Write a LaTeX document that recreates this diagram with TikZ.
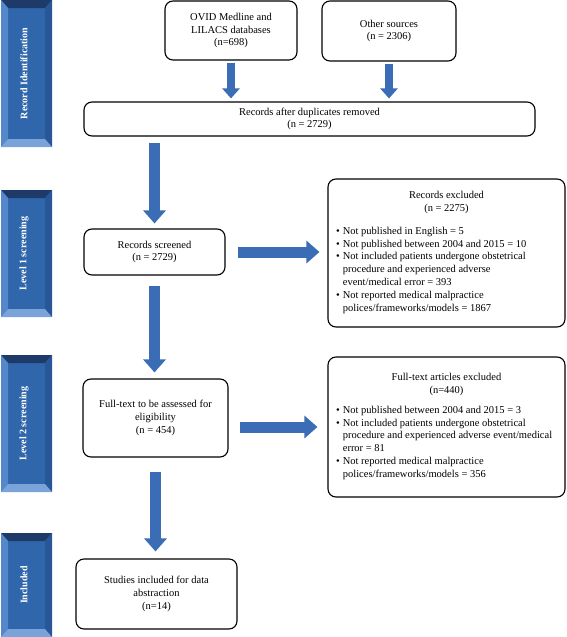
\documentclass[tikz,border=0pt]{standalone}
\usepackage{fontspec}
\setmainfont{Liberation Serif}
\usepackage{tikz}
\usetikzlibrary{arrows.meta}
\definecolor{barmid}{RGB}{47,102,172}
\definecolor{bartop}{RGB}{30,58,104}
\definecolor{barleft}{RGB}{84,136,202}
\definecolor{barright}{RGB}{40,86,150}
\definecolor{barbottom}{RGB}{122,163,217}
\definecolor{arrowblue}{RGB}{58,109,181}
\tikzset{
  box/.style={draw, rounded corners=8pt, line width=1.1pt, align=center, inner sep=2pt},
  bartext/.style={rotate=90, text=white, font=\fontsize{10}{12}\bfseries},
  smallarrow/.style={draw=arrowblue, line width=8pt, -{Triangle[width=17pt,length=10pt]}},
  bigarrow/.style={draw=arrowblue, line width=11pt, -{Triangle[width=22pt,length=13pt]}}
}
\def\levelbar(#1:#2)#3#4{%
  \fill[barmid] (1,#1) rectangle (52,#2);
  \fill[bartop] (1,#1) -- (52,#1) -- (45,{#1+8}) -- (8,{#1+8}) -- cycle;
  \fill[barleft] (1,#1) -- (8,{#1+8}) -- (8,{#2-8}) -- (1,#2) -- cycle;
  \fill[barright] (52,#1) -- (45,{#1+8}) -- (45,{#2-8}) -- (52,#2) -- cycle;
  \fill[barbottom] (1,#2) -- (8,{#2-8}) -- (45,{#2-8}) -- (52,#2) -- cycle;
  \node[bartext] (#3) at (24,{(#1+#2)/2}) {#4};
}

\begin{document}
\begin{tikzpicture}[x=1pt, y=-1pt, font=\fontsize{10.5}{12.8}\selectfont]
		%%%%% START %%%%%
		\useasboundingbox (0,0) rectangle (567,637);
		
		\levelbar(0:147){recid}{Record Identification}
		\levelbar(190:317){lvlone}{Level 1 screening}
		\levelbar(355:492){lvltwo}{Level 2 screening}
		\levelbar(533:637){incl}{Included}
		
		\node[box, minimum width=132pt, minimum height=59pt] (ovid) at (231,30.5) {OVID Medline and\\LILACS databases\\(n=698)};
		\node[box, minimum width=134pt, minimum height=60pt] (other) at (389,31) {Other sources\\(n = 2306)};
		\node[box, minimum width=451pt, minimum height=34pt] (dedup) at (309.5,119) {Records after duplicates removed\\(n = 2729)};
		
		\node[box, minimum width=141pt, minimum height=46pt] (screened) at (154.5,252) {Records screened\\(n = 2729)};
		\node[box, minimum width=237pt, minimum height=148pt] (exclone) at (446.5,253) {Records excluded\\(n = 2275)\\[11pt]
			\begin{tabular}{@{}l@{\hspace{3pt}}p{214pt}@{}}
				\textbullet & Not published in English = 5\\
				\textbullet & Not published between 2004 and 2015 = 10\\
				\textbullet & Not included patients undergone obstetrical\\
				& procedure and experienced adverse\\
				& event/medical error = 393\\
				\textbullet & Not reported medical malpractice\\
				& polices/frameworks/models = 1867
			\end{tabular}};
		
		\node[box, minimum width=145pt, minimum height=78pt] (fulltext) at (155.5,418) {Full-text to be assessed for\\eligibility\\(n = 454)};
		\node[box, minimum width=237pt, minimum height=140pt] (excltwo) at (446.5,427) {Full-text articles excluded\\(n=440)\\[8pt]
			\begin{tabular}{@{}l@{\hspace{3pt}}p{214pt}@{}}
				\textbullet & Not published between 2004 and 2015 = 3\\
				\textbullet & Not included patients undergone obstetrical\\
				& procedure and experienced adverse event/medical\\
				& error = 81\\
				\textbullet & Not reported medical malpractice\\
				& polices/frameworks/models = 356
			\end{tabular}};
		
		\node[box, minimum width=161pt, minimum height=70pt] (studies) at (156.5,594) {Studies included for data\\abstraction\\(n=14)};
		
		\draw[smallarrow, shorten <=2pt, shorten >=3pt] (ovid.south) -- (ovid.south |- dedup.north);
		\draw[smallarrow, shorten <=2pt, shorten >=3pt] (other.south) -- (other.south |- dedup.north);
		
		\draw[bigarrow, shorten <=6pt, shorten >=5pt] (dedup.south -| screened.north) -- (screened.north);
		\draw[bigarrow, shorten <=10pt, shorten >=6pt] (screened.south) -- (screened.south |- fulltext.north);
		\draw[bigarrow, shorten <=14pt, shorten >=7pt] (fulltext.south) -- (fulltext.south |- studies.north);
		
		\draw[bigarrow, shorten <=12pt, shorten >=8pt] (screened.east) -- (screened.east -| exclone.west);
		\draw[bigarrow, shorten <=11pt, shorten >=10pt] (fulltext.east |- excltwo.west) -- (excltwo.west);
		
		%%%%% END %%%%%
\end{tikzpicture}
\end{document}
